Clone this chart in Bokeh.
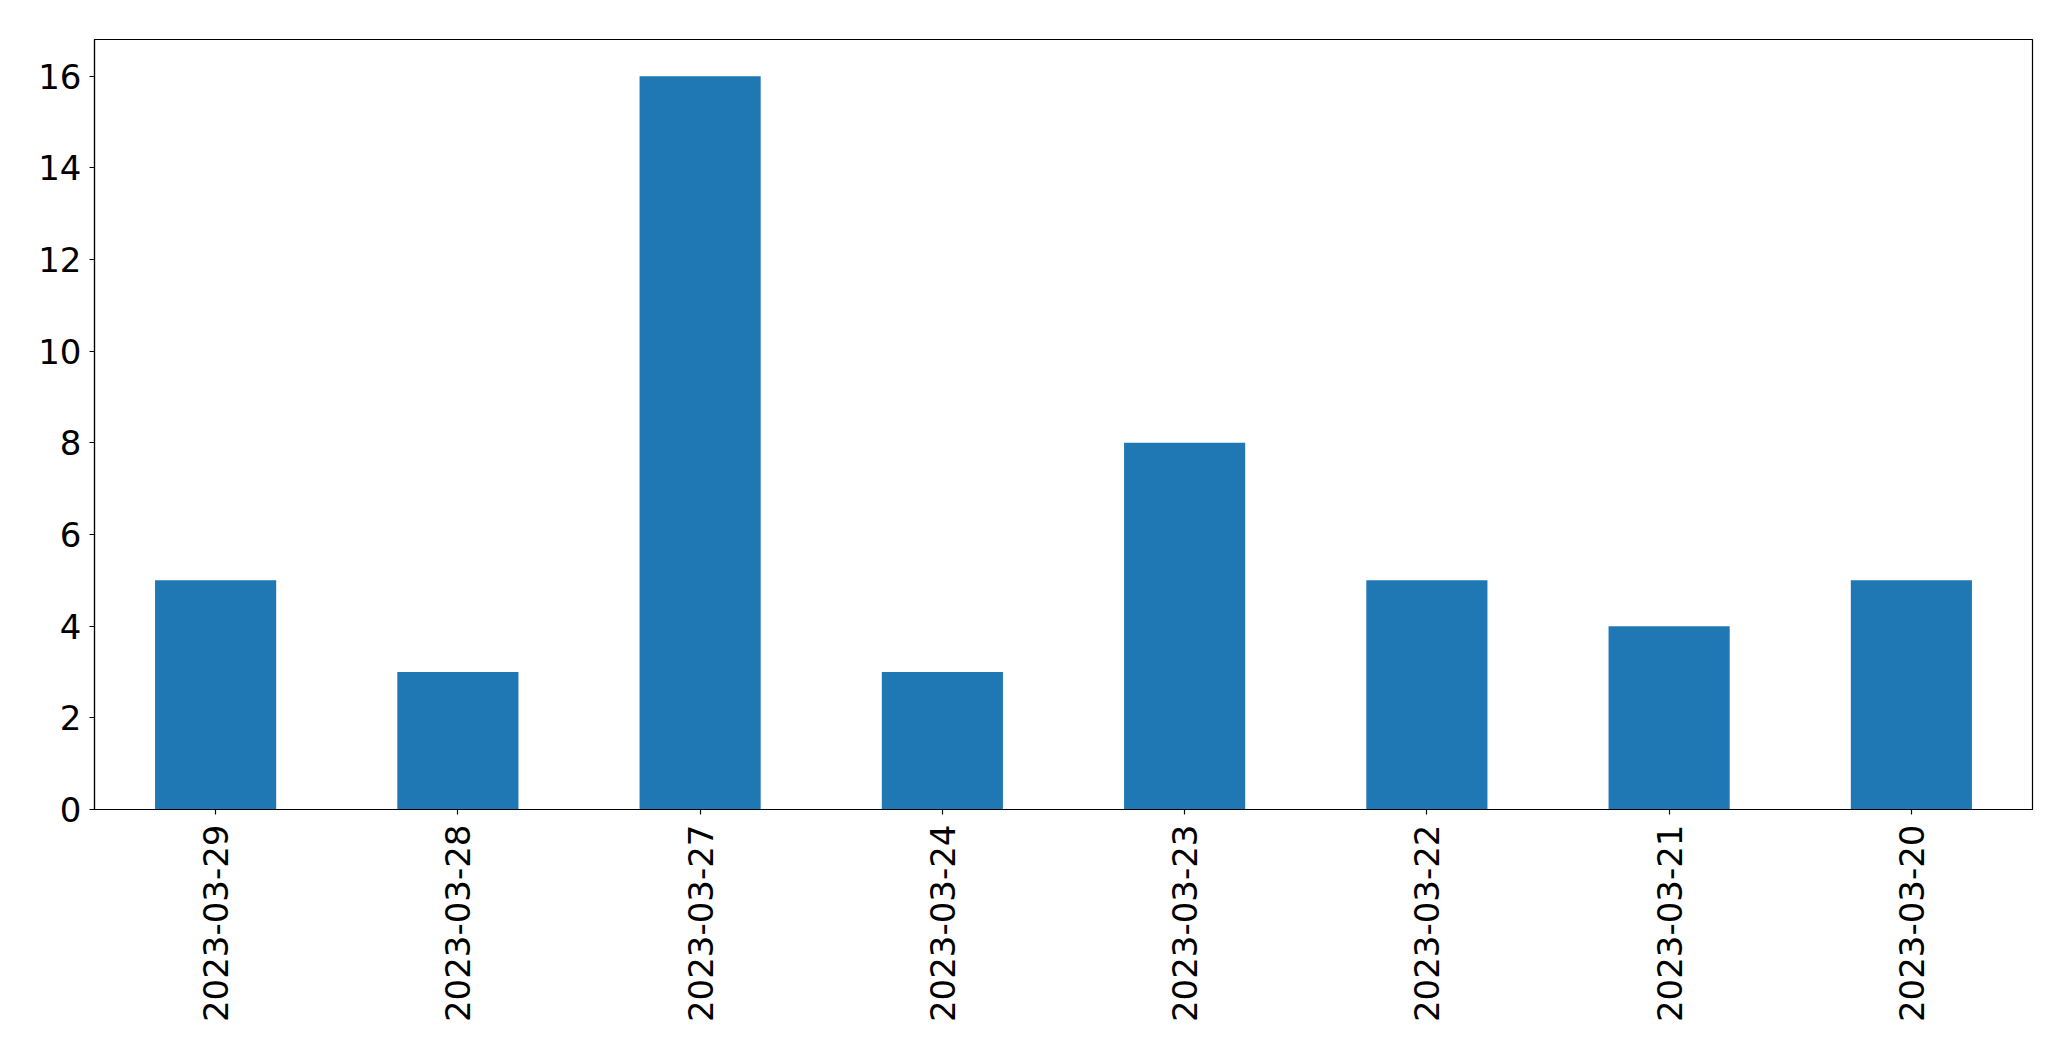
import math
from bokeh.plotting import figure
from bokeh.models import ColumnDataSource, FactorRange, Range1d, FixedTicker
from bokeh.embed import file_html
from bokeh.resources import INLINE

dates = ["2023-03-29", "2023-03-28", "2023-03-27", "2023-03-24",
         "2023-03-23", "2023-03-22", "2023-03-21", "2023-03-20"]
counts = [5, 3, 16, 3, 8, 5, 4, 5]
y_ticks = [0, 2, 4, 6, 8, 10, 12, 14, 16]

source = ColumnDataSource(dict(date=dates, count=counts))

p = figure(
    x_range=FactorRange(*dates, range_padding=0),
    y_range=Range1d(0, 16.8),
    frame_width=1938, frame_height=770,
    min_border_left=94, min_border_right=23,
    min_border_top=39, min_border_bottom=220,
    output_backend="svg", toolbar_location=None,
)
p.vbar(x="date", top="count", width=0.5, source=source,
       fill_color="#1f77b4", line_color=None)

p.xgrid.visible = False
p.ygrid.visible = False
p.outline_line_color = "black"
p.outline_line_width = 1.2
p.outline_line_alpha = 1.0

p.yaxis.ticker = FixedTicker(ticks=y_ticks)
for ax in (p.xaxis[0], p.yaxis[0]):
    ax.major_label_text_font = "DejaVu Sans"
    ax.major_label_text_font_size = "34px"
    ax.major_label_text_color = "black"
    ax.major_tick_out = 5
    ax.major_tick_in = 0
    ax.minor_tick_out = 0
    ax.minor_tick_in = 0
    ax.axis_line_color = "black"
    ax.major_tick_line_color = "black"
    ax.major_tick_line_width = 1.2
    ax.axis_line_width = 1.2
p.xaxis.major_label_orientation = math.pi / 2
p.xaxis.major_label_standoff = 10
p.yaxis.major_label_standoff = 8

open("out.html", "w").write(file_html(p, INLINE))
